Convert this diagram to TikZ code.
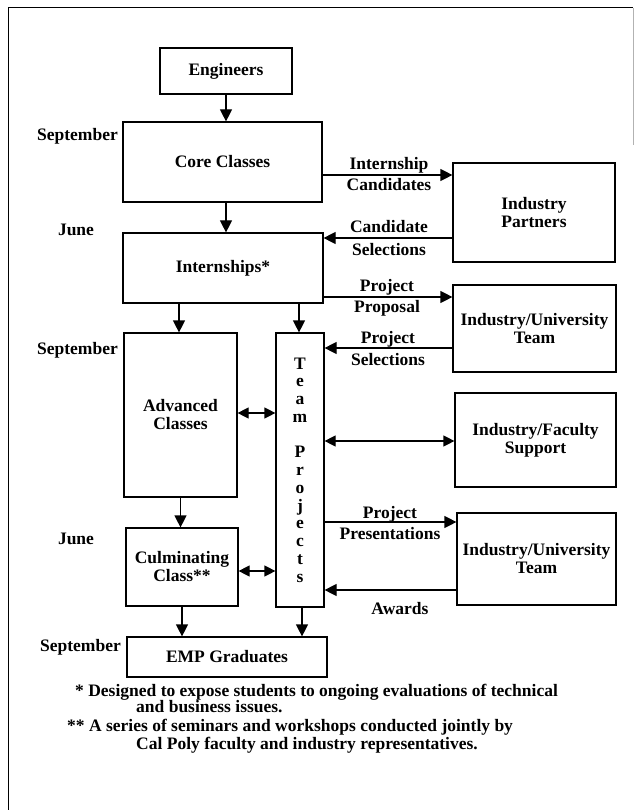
\documentclass[tikz,border=0pt]{standalone}
\usepackage{fontspec}
\setmainfont{Liberation Serif}
\usetikzlibrary{arrows.meta}
\tikzset{
  txt/.style={font=\bfseries\fontsize{17.5}{18}\selectfont},
  box/.style={draw, line width=1.2pt, inner sep=0pt, align=center, txt},
  lbl/.style={txt, inner sep=0pt, align=center, text height=12pt, text depth=4pt},
  note/.style={txt, inner sep=0pt, anchor=west, text height=12pt, text depth=4pt},
  arr/.style={line width=1.2pt, -{Triangle[length=12pt,width=12pt]}},
  darr/.style={line width=1.2pt, {Triangle[length=11pt,width=11pt]}-{Triangle[length=11pt,width=11pt]}}
}
\begin{document}
\begin{tikzpicture}[x=1pt,y=-1pt]
\useasboundingbox (0,0) rectangle (635,810);
% frame
\draw[line width=1pt] (8,810) -- (8,8) -- (633,8);
\draw[gray!60, line width=0.6pt] (633,8) -- (633,145);

% left column
\node[box, minimum width=132pt, minimum height=46pt] (eng) at (226,71) {Engineers};
\node[box, minimum width=199pt, minimum height=80pt] (core) at (222.5,162) {Core Classes};
\node[box, minimum width=200pt, minimum height=70pt] (intern) at (223,268) {Internships*};
\node[box, minimum width=113pt, minimum height=164pt] (adv) at (180.5,415) {Advanced\\Classes};
\node[box, minimum width=48pt, minimum height=274pt, font=\bfseries\fontsize{17.5}{17.75}\selectfont] (team) at (300,470)
  {T\\e\\a\\m\\[17.75pt]P\\r\\o\\j\\e\\c\\t\\s};
\node[box, minimum width=112pt, minimum height=78pt] (cul) at (182,567) {Culminating\\Class**};
\node[box, minimum width=200pt, minimum height=40pt] (emp) at (227,657) {EMP Graduates};

% right column
\node[box, minimum width=162pt, minimum height=99pt] (ip) at (534,212.5) {Industry\\Partners};
\node[box, minimum width=163pt, minimum height=87pt] (iut1) at (534.5,328.5) {Industry/University\\Team};
\node[box, minimum width=161pt, minimum height=94pt] (ifs) at (535.5,440) {Industry/Faculty\\Support};
\node[box, minimum width=159pt, minimum height=92pt] (iut2) at (536.5,559) {Industry/University\\Team};

% month labels
\node[lbl, anchor=east] (sep1) at (118,137) {September};
\node[lbl] (jun1) at (76,231) {June};
\node[lbl, anchor=east] (sep2) at (118,350) {September};
\node[lbl] (jun2) at (76,540) {June};
\node[lbl, anchor=east] (sep3) at (121,647) {September};

% vertical flow
\draw[arr] (eng.south) -- (eng.south |- core.north);
\draw[arr] (eng.south |- core.south) -- (eng.south |- intern.north);
\draw[arr] ([xshift=-1.5pt]adv.north |- intern.south) -- ([xshift=-1.5pt]adv.north);
\draw[arr] ([xshift=-1pt]team.north |- intern.south) -- ([xshift=-1pt]team.north);
\draw[arr] (adv.south) -- (adv.south |- cul.north);
\draw[arr] (cul.south) -- (cul.south |- emp.north);
\draw[arr] ([xshift=2pt]team.south) -- ([xshift=2pt]team.south |- emp.north);

% double arrows
\draw[darr] (adv.east |- 0,413) -- (team.west |- 0,413);
\draw[darr] (cul.east |- 0,571) -- (team.west |- 0,571);
\draw[darr] (team.east |- 0,441) -- (ifs.west |- 0,441);

% horizontal flows
\draw[arr] (core.east |- 0,175) -- (ip.west |- 0,175);
\draw[arr] (ip.west |- 0,238) -- (intern.east |- 0,238);
\draw[arr] (intern.east |- 0,297) -- (iut1.west |- 0,297);
\draw[arr] (iut1.west |- 0,348) -- (team.east |- 0,348);
\draw[arr] (team.east |- 0,522) -- (iut2.west |- 0,522);
\draw[arr] (iut2.west |- 0,590) -- (team.east |- 0,590);

% connector labels
\node[lbl] (l1a) at (389,166) {Internship};
\node[lbl] (l1b) at (389,187) {Candidates};
\node[lbl] (l2a) at (389,229) {Candidate};
\node[lbl] (l2b) at (389,251) {Selections};
\node[lbl] (l3a) at (387,287) {Project};
\node[lbl] (l3b) at (387,308) {Proposal};
\node[lbl] (l4a) at (388,339) {Project};
\node[lbl] (l4b) at (388,361) {Selections};
\node[lbl] (l5a) at (390,514) {Project};
\node[lbl] (l5b) at (390,535) {Presentations};
\node[lbl] (l6) at (400,610) {Awards};

% footnotes
\node[note] (f1) at (75,692) {* Designed to expose students to ongoing evaluations of technical};
\node[note] (f2) at (136,708) {and business issues.};
\node[note] (f3) at (67,727) {** A series of seminars and workshops conducted jointly by};
\node[note] (f4) at (136,745) {Cal Poly faculty and industry representatives.};
\end{tikzpicture}
\end{document}
